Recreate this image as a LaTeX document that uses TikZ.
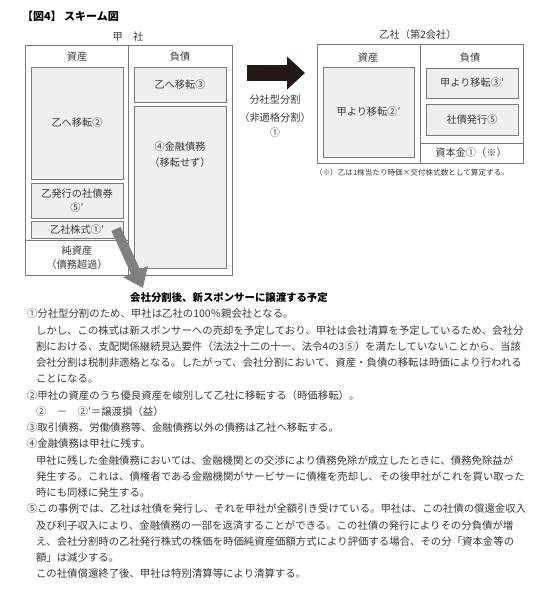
\documentclass[tikz,border=0pt]{standalone}
\usepackage{fontspec}
\setmainfont{Noto Sans CJK JP}
\usetikzlibrary{arrows.meta}
\definecolor{txt}{HTML}{3A3A3A}
\definecolor{frm}{HTML}{7A7A7A}
\definecolor{boxfill}{HTML}{EFEFEF}
\definecolor{darkarrow}{HTML}{231815}
\definecolor{greyarrow}{HTML}{7F7F7F}
\begin{document}
\begin{tikzpicture}[x=1pt,y=-1pt,
  every node/.style={inner sep=0pt, outer sep=0pt, text=txt},
  lbl/.style={font=\fontsize{10.2}{13}\selectfont, align=center},
  body/.style={font=\fontsize{10.4}{13}\selectfont, anchor=base west},
  frame/.style={draw=frm, line width=0.7pt},
  inbox/.style={draw=frm, fill=boxfill, line width=0.7pt, font=\fontsize{10.2}{14}\selectfont, align=center}]
\useasboundingbox[fill=white] (0,0) rectangle (550,592);

% title
\node[anchor=west, font=\fontsize{11}{13}\selectfont\bfseries, text=black] (title) at (22,16) {【図4】 スキーム図};

% Kou company
\node[lbl] (koulabel) at (128,37) {甲　社};
\node[frame, minimum width=207pt, minimum height=230pt] (kou) at (128.5,160) {};
\coordinate (kdivtop) at (128,45);
\coordinate (kdivbot) at (128,275);
\draw[frame] (kdivtop) -- (kdivbot);
\coordinate (kneta) at (25,240);
\coordinate (knetb) at (128,240);
\draw[frame] (kneta) -- (knetb);
\node[lbl] (kasset) at (77,57) {資産};
\node[lbl] (kliab) at (180,57) {負債};
\node[inbox, minimum width=92pt, minimum height=112pt] (boxA) at (77,123) {乙へ移転②};
\node[inbox, minimum width=92pt, minimum height=35pt] (boxB) at (77,200.5) {乙発行の社債券\\⑤′};
\node[inbox, minimum width=92pt, minimum height=17pt] (boxC) at (77,229.5) {乙社株式①′};
\node[lbl] (net1) at (77,251) {純資産};
\node[lbl] (net2) at (77,265) {（債務超過）};
\node[inbox, minimum width=92pt, minimum height=35pt] (boxD) at (180,84.5) {乙へ移転③};
\node[inbox, minimum width=92pt, minimum height=162pt] (boxE) at (180,187) {};
\node[lbl] (boxEt1) at (180,147) {④金融債務};
\node[lbl] (boxEt2) at (180,163) {（移転せず）};

% dark arrow
\coordinate (da1) at (247,73);
\coordinate (da2) at (305,73);
\draw[darkarrow, line width=16pt, -{Triangle[width=32pt,length=18pt]}] (da1) -- (da2);
\node[lbl] (ar1) at (275,100) {分社型分割};
\node[lbl] (ar2) at (275,118) {（非適格分割）};
\node[lbl] (ar3) at (275,133) {①};

% Otsu company
\node[lbl] (otsulabel) at (418,35) {乙社（第2会社）};
\node[frame, minimum width=206pt, minimum height=119pt] (otsu) at (420,103.5) {};
\coordinate (odivtop) at (420,44);
\coordinate (odivbot) at (420,163);
\draw[frame] (odivtop) -- (odivbot);
\coordinate (ocapa) at (420,143);
\coordinate (ocapb) at (523,143);
\draw[frame] (ocapa) -- (ocapb);
\node[lbl] (oasset) at (368,58) {資産};
\node[lbl] (oliab) at (470,58) {負債};
\node[inbox, minimum width=91pt, minimum height=90pt] (boxF) at (368.5,112) {甲より移転②′};
\node[inbox, minimum width=92pt, minimum height=30pt] (boxG) at (472,83) {甲より移転③′};
\node[inbox, minimum width=92pt, minimum height=31pt] (boxH) at (472,119.5) {社債発行⑤};
\node[lbl] (capital) at (471,153) {資本金①（※）};
\node[anchor=west, font=\fontsize{7.6}{9}\selectfont] (note) at (315,173) {（※）乙は1株当たり時価×交付株式数として算定する。};

% grey arrow
\coordinate (ga1) at (116,229);
\coordinate (ga2) at (143,288);
\draw[greyarrow, line width=10pt, -{Triangle[width=26pt,length=18pt]}] (ga1) -- (ga2);
\node[font=\fontsize{10.4}{13}\selectfont\bfseries, text=black] (caption) at (229,297) {会社分割後、新スポンサーに譲渡する予定};

% body text
\node[body] (l1) at (27,317.7) {①分社型分割のため、甲社は乙社の100％親会社となる。};
\node[body] (l2) at (36,334) {しかし、この株式は新スポンサーへの売却を予定しており、甲社は会社清算を予定しているため、会社分};
\node[body] (l3) at (36,350.2) {割における、支配関係継続見込要件（法法2十二の十一、法令4の3⑤）を満たしていないことから、当該};
\node[body] (l4) at (36,366.5) {会社分割は税制非適格となる。したがって、会社分割において、資産・負債の移転は時価により行われる};
\node[body] (l5) at (36,382.7) {ことになる。};
\node[body] (l6) at (27,399) {②甲社の資産のうち優良資産を峻別して乙社に移転する（時価移転）。};
\node[body] (l7) at (36,415.2) {②\quad －\quad ②′＝譲渡損（益）};
\node[body] (l8) at (27,431.5) {③取引債務、労働債務等、金融債務以外の債務は乙社へ移転する。};
\node[body] (l9) at (27,447.7) {④金融債務は甲社に残す。};
\node[body] (l10) at (36,464) {甲社に残した金融債務においては、金融機関との交渉により債務免除が成立したときに、債務免除益が};
\node[body] (l11) at (36,480.2) {発生する。これは、債権者である金融機関がサービサーに債権を売却し、その後甲社がこれを買い取った};
\node[body] (l12) at (36,496.5) {時にも同様に発生する。};
\node[body] (l13) at (27,512.7) {⑤この事例では、乙社は社債を発行し、それを甲社が全額引き受けている。甲社は、この社債の償還金収入};
\node[body] (l14) at (36,529) {及び利子収入により、金融債務の一部を返済することができる。この社債の発行によりその分負債が増};
\node[body] (l15) at (36,545.2) {え、会社分割時の乙社発行株式の株価を時価純資産価額方式により評価する場合、その分「資本金等の};
\node[body] (l16) at (36,561.5) {額」は減少する。};
\node[body] (l17) at (36,577.7) {この社債償還終了後、甲社は特別清算等により清算する。};
\end{tikzpicture}
\end{document}
